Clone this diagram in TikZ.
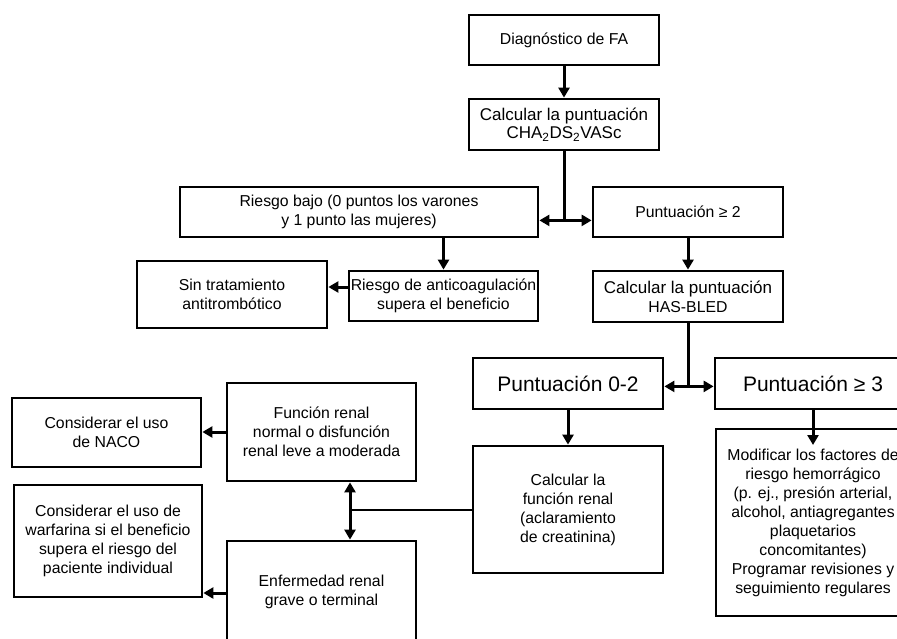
\documentclass[tikz,border=0pt]{standalone}
\usepackage{fontspec}
\setmainfont{Liberation Sans}
\usetikzlibrary{arrows.meta}
\begin{document}
\begin{tikzpicture}[x=1pt,y=-1pt,
  box/.style={draw, line width=2.8pt, inner sep=0pt, align=center,
    font=\fontsize{15.8}{19}\selectfont},
  bigbox/.style={box, font=\fontsize{21}{24}\selectfont},
  conn/.style={line width=3pt},
  arr/.style={conn, -{Triangle[length=10pt,width=11pt]}},
  darr/.style={conn, {Triangle[length=10pt,width=11pt]}-{Triangle[length=10pt,width=11pt]}},
  thinconn/.style={line width=2.2pt}]
\path[use as bounding box, clip] (0,0) rectangle (897,639);

\node[box, minimum width=190pt, minimum height=50pt] (d1) at (564,40) {Diagnóstico de FA};
\node[box, minimum width=190pt, minimum height=51pt, font=\fontsize{17}{18.5}\selectfont] (d2) at (564,124.5)
  {Calcular la puntuación\\CHA\textsubscript{2}DS\textsubscript{2}VASc};
\node[box, minimum width=358pt, minimum height=50pt] (low) at (359,212)
  {Riesgo bajo (0 puntos los varones\\y 1 punto las mujeres)};
\node[box, minimum width=190pt, minimum height=50pt] (p2) at (688,212) {Puntuación ≥ 2};
\node[box, minimum width=190pt, minimum height=51pt] (has) at (688,296.5)
  {{\fontsize{17}{19}\selectfont Calcular la puntuación}\\HAS-BLED};
\node[box, minimum width=189pt, minimum height=50pt] (anti) at (443.5,296)
  {Riesgo de anticoagulación\\supera el beneficio};
\node[box, minimum width=190pt, minimum height=67pt] (sin) at (232,294.5)
  {Sin tratamiento\\antitrombótico};
\node[bigbox, minimum width=190pt, minimum height=51pt] (p02) at (568,383.5) {Puntuación 0-2};
\node[bigbox, minimum width=196pt, minimum height=51pt] (p3) at (813,383.5) {Puntuación ≥ 3};
\node[box, minimum width=190pt, minimum height=127pt] (crf) at (568,509.5)
  {Calcular la\\función renal\\(aclaramiento\\de creatinina)};
\node[box, minimum width=194pt, minimum height=187pt] (mod) at (813,522.5)
  {Modificar los factores de\\riesgo hemorrágico\\(p. ej., presión arterial,\\alcohol, antiagregantes\\plaquetarios\\concomitantes)\\Programar revisiones y\\seguimiento regulares};
\node[box, minimum width=189pt, minimum height=98pt] (fn) at (321.5,432)
  {Función renal\\normal o disfunción\\renal leve a moderada};
\node[box, minimum width=189pt, minimum height=69pt] (naco) at (106.5,432.5)
  {Considerar el uso\\de NACO};
\node[box, minimum width=188pt, minimum height=112pt] (warf) at (108,541)
  {Considerar el uso de\\warfarina si el beneficio\\supera el riesgo del\\paciente individual};
\node[box, minimum width=189pt, minimum height=101pt] (enf) at (321.5,591.5)
  {Enfermedad renal\\grave o terminal};

% connectors
\draw[arr] (d1.south) -- (d2.north);
\draw[conn] (d2.south) -- ++(0,69) coordinate (b1);
\draw[arr] (b1) -- (b1 -| low.east);
\draw[arr] (b1) -- (b1 -| p2.west);
\draw[arr] (anti.north |- low.south) -- (anti.north);
\coordinate (a1) at ([yshift=9pt]anti.west);
\draw[arr] (a1) -- (a1 -| sin.east);
\draw[arr] (p2.south) -- (has.north);
\draw[conn] (has.south) -- ++(0,63) coordinate (b2);
\draw[arr] (b2) -- (b2 -| p02.east);
\draw[arr] (b2) -- (b2 -| p3.west);
\draw[arr] (p02.south) -- (crf.north);
\coordinate (m1) at (813,445);
\draw[arr] (p3.south) -- (m1);
\draw[arr] (fn.west) -- (fn.west -| naco.east);
\coordinate (e1) at (227,593);
\draw[arr] (e1) -- (e1 -| warf.east);
\coordinate (v) at (350,510);
\draw[darr] (v |- fn.south) -- (v |- enf.north);
\draw[thinconn] (v) -- (v -| crf.west);
\end{tikzpicture}
\end{document}
